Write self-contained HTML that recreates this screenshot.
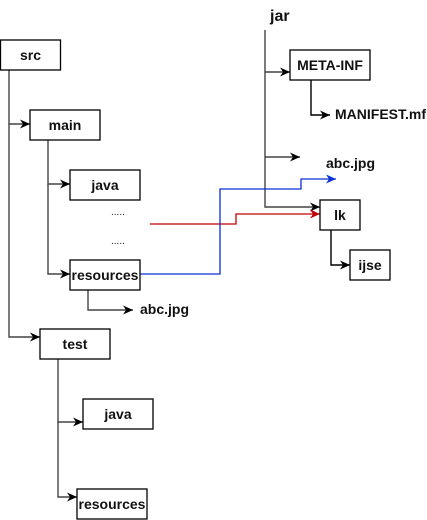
<!DOCTYPE html>
<html><head><meta charset="utf-8"><style>
html,body{margin:0;padding:0;background:#fff;}
svg{display:block;}
text{font-family:"Liberation Sans",Arial,sans-serif;font-weight:bold;font-size:14px;fill:#111;}
</style></head><body>
<svg width="427" height="520" viewBox="0 0 427 520" xmlns="http://www.w3.org/2000/svg">
<defs>
<marker id="ak" markerWidth="12" markerHeight="10" refX="10" refY="5" orient="auto" markerUnits="userSpaceOnUse"><path d="M0,0.5 L10,5 L0,9.5 L3,5 Z" fill="#000"/></marker>
<marker id="ar" markerWidth="12" markerHeight="10" refX="10" refY="5" orient="auto" markerUnits="userSpaceOnUse"><path d="M0,0.5 L10,5 L0,9.5 L3,5 Z" fill="#c00000"/></marker>
<marker id="ab" markerWidth="12" markerHeight="10" refX="10" refY="5" orient="auto" markerUnits="userSpaceOnUse"><path d="M0,0.5 L10,5 L0,9.5 L3,5 Z" fill="#0a2fd6"/></marker>
</defs>
<g fill="none" stroke="#444" stroke-width="1.4">
<path d="M9,70 V124 H30" marker-end="url(#ak)"/>
<path d="M9,124 V337 H40" marker-end="url(#ak)"/>
<path d="M48,140 V184 H70" marker-end="url(#ak)"/>
<path d="M48,184 V274 H70" marker-end="url(#ak)"/>
<path d="M88,290 V310 H133" marker-end="url(#ak)"/>
<path d="M58,359 V422 H83" marker-end="url(#ak)"/>
<path d="M58,422 V497 H77" marker-end="url(#ak)"/>
<path d="M265,30 V207 H320" marker-end="url(#ak)"/>
<path d="M265,72 H290" marker-end="url(#ak)"/>
<path d="M265,157 H300" marker-end="url(#ak)"/>
<path d="M311,80 V115 H330" stroke="#000" marker-end="url(#ak)"/>
<path d="M331,230 V265 H350" stroke="#000" marker-end="url(#ak)"/>
</g>
<path d="M150,224 H236 V214 H320" fill="none" stroke="#c00000" stroke-width="1.3" marker-end="url(#ar)"/>
<path d="M140,274 H220 V189 H301 V179 H336" fill="none" stroke="#0a2fd6" stroke-width="1.3" marker-end="url(#ab)"/>
<g fill="#fff" stroke="#000" stroke-width="1.3">
<rect x="0.5" y="40" width="60" height="30"/>
<rect x="30" y="110" width="70" height="30"/>
<rect x="70" y="170" width="70" height="30"/>
<rect x="70" y="260" width="70" height="30"/>
<rect x="40" y="329" width="70" height="30"/>
<rect x="83" y="399" width="70" height="30"/>
<rect x="77" y="489" width="70" height="30"/>
<rect x="290" y="50" width="80" height="30"/>
<rect x="320" y="200" width="40" height="30"/>
<rect x="350" y="250" width="40" height="30"/>
</g>
<g text-anchor="middle">
<text x="30.5" y="60">src</text>
<text x="65" y="130">main</text>
<text x="105" y="190">java</text>
<text x="105" y="280">resources</text>
<text x="75" y="349">test</text>
<text x="118" y="419">java</text>
<text x="112" y="509">resources</text>
<text x="330" y="70">META-INF</text>
<text x="340" y="220">lk</text>
<text x="370" y="270">ijse</text>
</g>
<text x="140" y="314">abc.jpg</text>
<text x="270" y="21" style="font-size:16px">jar</text>
<text x="335" y="119">MANIFEST.mf</text>
<text x="326" y="168">abc.jpg</text>
<text x="111" y="215" style="font-weight:normal;font-size:10px">.....</text>
<text x="111" y="244" style="font-weight:normal;font-size:10px">.....</text>
</svg>
</body></html>
